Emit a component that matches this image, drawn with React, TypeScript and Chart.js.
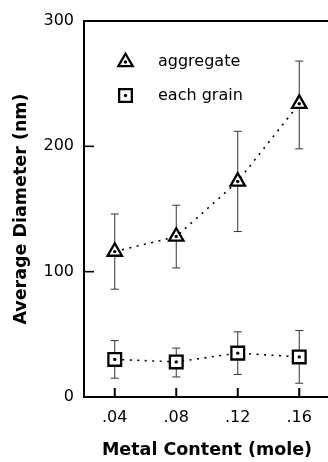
import React, { useEffect, useRef } from 'react';
import { Chart, registerables } from 'chart.js';

Chart.register(...registerables);

const categories = ['.04', '.08', '.12', '.16'];
const aggregateMean = [116, 128, 172, 234];
const aggregateLow = [86, 103, 132, 198];
const aggregateHigh = [146, 153, 212, 268];
const grainMean = [30, 28, 35, 32];
const grainLow = [15, 16, 18, 11];
const grainHigh = [45, 39, 52, 53];
const yTickValues = [0, 100, 200, 300];
const seriesNames = ['aggregate', 'each grain'];
const xTitle = 'Metal Content (mole)';
const yTitle = 'Average Diameter (nm)';

const FONT = "'DejaVu Sans', 'Liberation Sans', sans-serif";
const TRI_R = 8.3;
const RECT_R = 9;
const MARK_W = 2.3;

function drawMarker(ctx: CanvasRenderingContext2D, style: string, x: number, y: number, r: number) {
  ctx.save();
  ctx.beginPath();
  if (style === 'triangle') {
    ctx.moveTo(x, y - r);
    ctx.lineTo(x + r * Math.sin((2 * Math.PI) / 3), y - r * Math.cos((2 * Math.PI) / 3));
    ctx.lineTo(x - r * Math.sin((2 * Math.PI) / 3), y - r * Math.cos((2 * Math.PI) / 3));
    ctx.closePath();
  } else {
    const s = r * Math.SQRT1_2;
    ctx.rect(x - s, y - s, 2 * s, 2 * s);
  }
  ctx.fillStyle = '#fff';
  ctx.fill();
  ctx.lineWidth = MARK_W;
  ctx.strokeStyle = '#000';
  ctx.stroke();
  ctx.beginPath();
  ctx.arc(x, y, 1.7, 0, Math.PI * 2);
  ctx.fillStyle = '#000';
  ctx.fill();
  ctx.restore();
}

const decorPlugin = {
  id: 'decor',
  beforeDatasetsDraw(chart: any) {
    const { ctx, chartArea: a, scales } = chart;
    const x = scales.x;
    const y = scales.y;
    ctx.save();
    // error bars
    ctx.strokeStyle = '#333';
    ctx.lineWidth = 1;
    const bars = [
      [aggregateLow, aggregateHigh],
      [grainLow, grainHigh],
    ];
    bars.forEach(([lo, hi]) => {
      lo.forEach((_, i) => {
        const px = x.getPixelForValue(i);
        const y1 = y.getPixelForValue(lo[i]);
        const y2 = y.getPixelForValue(hi[i]);
        ctx.beginPath();
        ctx.moveTo(px, y1);
        ctx.lineTo(px, y2);
        ctx.moveTo(px - 4, y1);
        ctx.lineTo(px + 4, y1);
        ctx.moveTo(px - 4, y2);
        ctx.lineTo(px + 4, y2);
        ctx.stroke();
      });
    });
    // frame (left, top, bottom)
    ctx.strokeStyle = '#000';
    ctx.lineWidth = 2;
    ctx.lineJoin = 'miter';
    ctx.beginPath();
    ctx.moveTo(a.right + 10, a.top);
    ctx.lineTo(a.left, a.top);
    ctx.lineTo(a.left, a.bottom);
    ctx.lineTo(a.right + 10, a.bottom);
    ctx.stroke();
    // inward ticks
    ctx.lineWidth = 1.6;
    y.ticks.forEach((t: any) => {
      const py = y.getPixelForValue(t.value);
      ctx.beginPath();
      ctx.moveTo(a.left, py);
      ctx.lineTo(a.left + 10, py);
      ctx.stroke();
    });
    ctx.lineWidth = 2;
    categories.forEach((_, i) => {
      const px = x.getPixelForValue(i);
      ctx.beginPath();
      ctx.moveTo(px, a.bottom);
      ctx.lineTo(px, a.bottom - 9);
      ctx.stroke();
    });
    ctx.restore();
  },
  afterDatasetsDraw(chart: any) {
    const { ctx, chartArea: a } = chart;
    ctx.save();
    chart.data.datasets.forEach((_: any, di: number) => {
      const meta = chart.getDatasetMeta(di);
      meta.data.forEach((pt: any) => {
        ctx.beginPath();
        ctx.arc(pt.x, pt.y, 1.7, 0, Math.PI * 2);
        ctx.fillStyle = '#000';
        ctx.fill();
      });
    });
    // legend
    const lx = a.left + 41.5;
    const rows = [a.top + 41, a.top + 74.5];
    const styles = ['triangle', 'rect'];
    const radii = [TRI_R, RECT_R];
    seriesNames.forEach((name, i) => {
      drawMarker(ctx, styles[i], lx, rows[i], radii[i]);
      ctx.font = `16px ${FONT}`;
      ctx.fillStyle = '#000';
      ctx.textBaseline = 'middle';
      ctx.textAlign = 'left';
      ctx.fillText(name, a.left + 74, rows[i]);
    });
    ctx.restore();
  },
};

export default function App() {
  const ref = useRef<HTMLCanvasElement | null>(null);
  useEffect(() => {
    if (!ref.current) return;
    const chart = new Chart(ref.current, {
      type: 'line',
      data: {
        labels: categories,
        datasets: [
          {
            label: seriesNames[0],
            data: aggregateMean,
            borderColor: '#000',
            borderWidth: 1.6,
            borderDash: [2, 5.5],
            fill: false,
            tension: 0,
            pointStyle: 'triangle',
            pointRadius: TRI_R,
            pointHoverRadius: TRI_R,
            pointBackgroundColor: '#fff',
            pointBorderColor: '#000',
            pointBorderWidth: MARK_W,
          },
          {
            label: seriesNames[1],
            data: grainMean,
            borderColor: '#000',
            borderWidth: 1.6,
            borderDash: [2, 5.5],
            fill: false,
            tension: 0,
            pointStyle: 'rect',
            pointRadius: RECT_R,
            pointHoverRadius: RECT_R,
            pointBackgroundColor: '#fff',
            pointBorderColor: '#000',
            pointBorderWidth: MARK_W,
          },
        ],
      },
      options: {
        responsive: false,
        animation: false,
        events: [],
        layout: { autoPadding: false, padding: { top: 21, left: 0, right: 0, bottom: 0 } },
        plugins: { legend: { display: false }, tooltip: { enabled: false } },
        scales: {
          x: {
            type: 'category',
            offset: true,
            grid: { display: false, drawTicks: false },
            border: { display: false },
            ticks: {
              color: '#000',
              font: { family: FONT, size: 16 },
              padding: 11,
              maxRotation: 0,
              autoSkip: false,
            },
            title: {
              display: true,
              text: xTitle,
              color: '#000',
              font: { family: FONT, size: 17.5, weight: 'bold' },
              padding: { top: 0, bottom: 1 },
            },
            afterFit: (s: any) => {
              s.height = 65;
              s.paddingLeft = 0;
              s.paddingRight = 0;
            },
          },
          y: {
            min: 0,
            max: 300,
            grid: { display: false, drawTicks: false },
            border: { display: false },
            afterBuildTicks: (s: any) => {
              s.ticks = yTickValues.map((v) => ({ value: v }));
            },
            ticks: {
              color: '#000',
              font: { family: FONT, size: 16 },
              padding: 10,
            },
            title: {
              display: true,
              text: yTitle,
              color: '#000',
              font: { family: FONT, size: 17.5, weight: 'bold' },
              padding: { top: 11, bottom: 0 },
            },
            afterFit: (s: any) => {
              s.width = 84;
              s.paddingTop = 0;
              s.paddingBottom = 0;
            },
          },
        },
      },
      plugins: [decorPlugin],
    } as any);
    return () => chart.destroy();
  }, []);
  return (
    <div
      style={{
        position: 'fixed',
        left: 0,
        top: 0,
        width: 328,
        height: 462,
        overflow: 'hidden',
        background: '#fff',
      }}
    >
      <canvas ref={ref} width={330} height={462} style={{ display: 'block' }} />
    </div>
  );
}
